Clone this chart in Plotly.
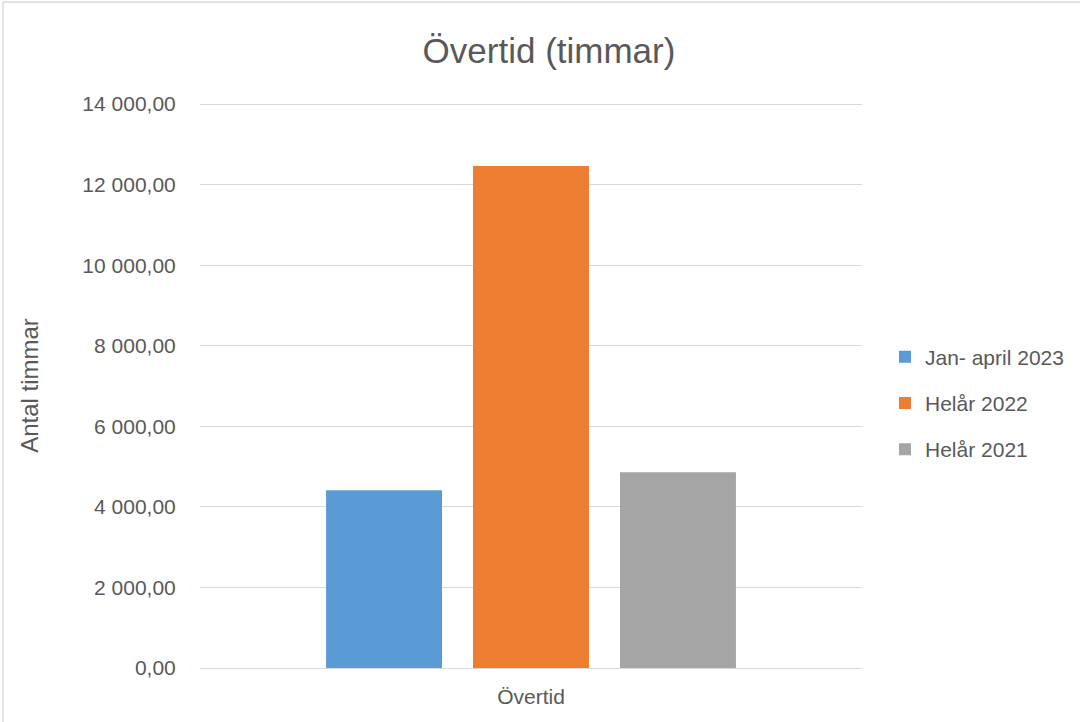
import plotly.graph_objects as go

categories = ["Övertid"]
series_names = ["Jan- april 2023", "Helår 2022", "Helår 2021"]
series_values = [[4415], [12460], [4862]]
series_colors = ["#5B9BD5", "#ED7D31", "#A5A5A5"]
tick_vals = [0, 2000, 4000, 6000, 8000, 10000, 12000, 14000]
tick_text = ["0,00", "2 000,00", "4 000,00", "6 000,00", "8 000,00", "10 000,00", "12 000,00", "14 000,00"]

FONT = "Liberation Sans"
GREY = "#595959"

fig = go.Figure()
for i, (name, vals, col) in enumerate(zip(series_names, series_values, series_colors)):
    fig.add_trace(go.Bar(x=categories, y=vals, name=name, legendgroup=f"g{i}",
                         marker=dict(color=col, line=dict(width=0))))

L, R, T, B = 200, 218, 103, 54
W, H = 1080, 722
pw, ph = W - L - R, H - T - B

def px_x(px):
    return (px - L) / pw

def px_y(py):
    return (H - B - py) / ph

fig.update_layout(
    width=W, height=H,
    margin=dict(l=L, r=R, t=T, b=B, autoexpand=False),
    paper_bgcolor="white", plot_bgcolor="white",
    barmode="group", bargap=0.334, bargroupgap=0.211,
    title=dict(text="Övertid (timmar)", x=549 / W, xanchor="center", y=1 - 51 / H, yanchor="middle",
               font=dict(family=FONT, size=35, color=GREY)),
    font=dict(family=FONT, color=GREY),
    legend=dict(x=px_x(885), y=px_y(403), xanchor="left", yanchor="middle",
                font=dict(family=FONT, size=21, color=GREY), tracegroupgap=16,
                itemwidth=30, bgcolor="rgba(0,0,0,0)", traceorder="grouped"),
    xaxis=dict(showgrid=False, showline=False, zeroline=False, ticks="outside", ticklen=10,
               tickcolor="rgba(0,0,0,0)", tickfont=dict(family=FONT, size=21, color=GREY)),
    yaxis=dict(range=[0, 14025], tickvals=tick_vals, ticktext=tick_text,
               showgrid=True, gridcolor="#D9D9D9", gridwidth=1.3,
               zeroline=True, zerolinecolor="#D9D9D9", zerolinewidth=1.3,
               showline=False, ticks="outside", ticklen=19, tickcolor="rgba(0,0,0,0)",
               tickfont=dict(family=FONT, size=21, color=GREY),
               title=dict(text="Antal timmar", font=dict(family=FONT, size=24, color=GREY), standoff=36)),
    shapes=[dict(type="rect", xref="paper", yref="paper",
                 x0=px_x(3), x1=px_x(1090), y0=px_y(730), y1=px_y(2),
                 line=dict(color="#D9D9D9", width=1.3), fillcolor="rgba(0,0,0,0)", layer="below")],
)

fig.write_html("out.html", config={"displayModeBar": False},
               post_script="document.body.style.margin='0';document.body.style.overflow='hidden';")
